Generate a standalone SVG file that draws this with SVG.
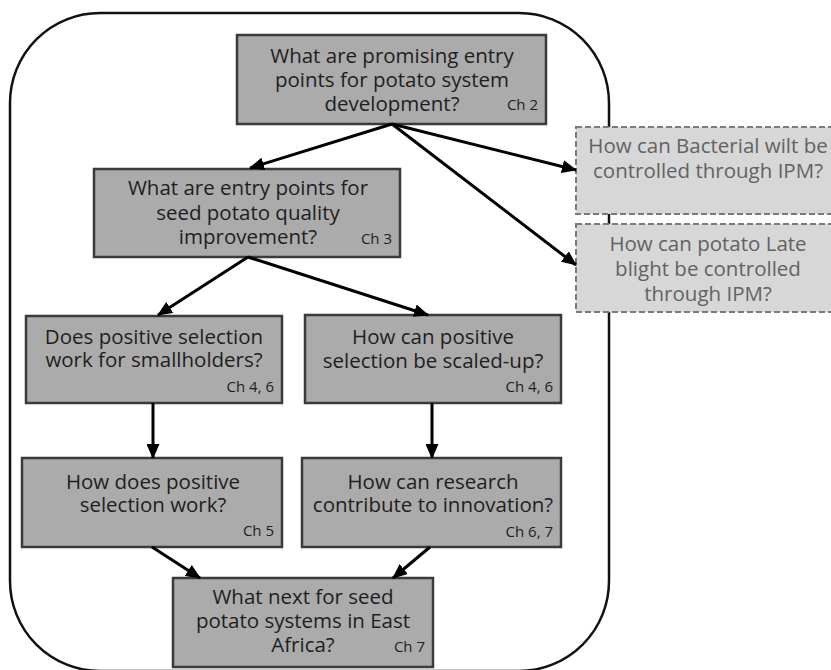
<svg xmlns="http://www.w3.org/2000/svg" width="831" height="670" viewBox="0 0 831 670">
<style>
.frame{fill:none;stroke:#111;stroke-width:2.5}
.node rect{fill:#ababab;stroke:#3a3a3a;stroke-width:2.5}
.dnode rect{fill:#d7d7d7;stroke:#7a7a7a;stroke-width:2;stroke-dasharray:6 3}
.t{font-family:"Open Sans","Noto Sans","DejaVu Sans",sans-serif;font-size:20.5px;fill:#1e1e1e;text-anchor:middle}
.dnode .t{fill:#626262}
.ch{font-family:"Open Sans","Noto Sans","DejaVu Sans",sans-serif;font-size:15px;fill:#1e1e1e;text-anchor:end}
.conn line{stroke:#000;stroke-width:3;marker-end:url(#ah)}
</style>
<defs>
<marker id="ah" markerUnits="userSpaceOnUse" markerWidth="15" markerHeight="13" refX="14" refY="6.5" orient="auto">
<path d="M0,0 L15,6.5 L0,13 Z" fill="#000"/>
</marker>
</defs>
<rect class="frame" x="10" y="13" width="599" height="658" rx="90" ry="90"/>

<g id="n-entry" class="node">
<rect x="237" y="35" width="309" height="89"/>
<text class="t"><tspan x="392" y="63">What are promising entry</tspan><tspan x="392" y="87">points for potato system</tspan><tspan x="392" y="111">development?</tspan></text>
<text class="ch" x="538" y="110">Ch 2</text>
</g>

<g id="n-seed" class="node">
<rect x="94" y="169" width="306" height="88"/>
<text class="t"><tspan x="248" y="195">What are entry points for</tspan><tspan x="248" y="220">seed potato quality</tspan><tspan x="248" y="244">improvement?</tspan></text>
<text class="ch" x="392" y="244">Ch 3</text>
</g>

<g id="n-bw" class="dnode">
<rect x="576" y="127" width="256" height="87"/>
<text class="t"><tspan x="708" y="153">How can Bacterial wilt be</tspan><tspan x="708" y="178">controlled through IPM?</tspan></text>
</g>

<g id="n-lb" class="dnode">
<rect x="576" y="224" width="256" height="88"/>
<text class="t"><tspan x="708" y="251">How can potato Late</tspan><tspan x="708" y="276">blight be controlled</tspan><tspan x="708" y="301">through IPM?</tspan></text>
</g>

<g id="n-ps" class="node">
<rect x="26" y="316" width="256" height="87"/>
<text class="t"><tspan x="154" y="344">Does positive selection</tspan><tspan x="154" y="367">work for smallholders?</tspan></text>
<text class="ch" x="274" y="392">Ch 4, 6</text>
</g>

<g id="n-scale" class="node">
<rect x="305" y="315" width="256" height="88"/>
<text class="t"><tspan x="433" y="344">How can positive</tspan><tspan x="433" y="368">selection be scaled-up?</tspan></text>
<text class="ch" x="553" y="392">Ch 4, 6</text>
</g>

<g id="n-how" class="node">
<rect x="22" y="458" width="260" height="89"/>
<text class="t"><tspan x="153" y="489">How does positive</tspan><tspan x="153" y="512">selection work?</tspan></text>
<text class="ch" x="274" y="536">Ch 5</text>
</g>

<g id="n-research" class="node">
<rect x="302" y="458" width="259" height="89"/>
<text class="t"><tspan x="433" y="489">How can research</tspan><tspan x="433" y="512">contribute to innovation?</tspan></text>
<text class="ch" x="553" y="537">Ch 6, 7</text>
</g>

<g id="n-next" class="node">
<rect x="173" y="578" width="260" height="89"/>
<text class="t"><tspan x="303" y="604">What next for seed</tspan><tspan x="303" y="628">potato systems in East</tspan><tspan x="303" y="652">Africa?</tspan></text>
<text class="ch" x="425" y="652">Ch 7</text>
</g>

<g id="connectors" class="conn">
<line x1="392" y1="124" x2="250" y2="168"/>
<line x1="392" y1="124" x2="576" y2="170"/>
<line x1="392" y1="124" x2="576" y2="265"/>
<line x1="248" y1="257" x2="158" y2="315"/>
<line x1="248" y1="257" x2="428" y2="315"/>
<line x1="153" y1="403" x2="153" y2="458"/>
<line x1="432" y1="403" x2="432" y2="458"/>
<line x1="152" y1="547" x2="200" y2="578"/>
<line x1="430" y1="547" x2="393" y2="578"/>
</g>
</svg>
